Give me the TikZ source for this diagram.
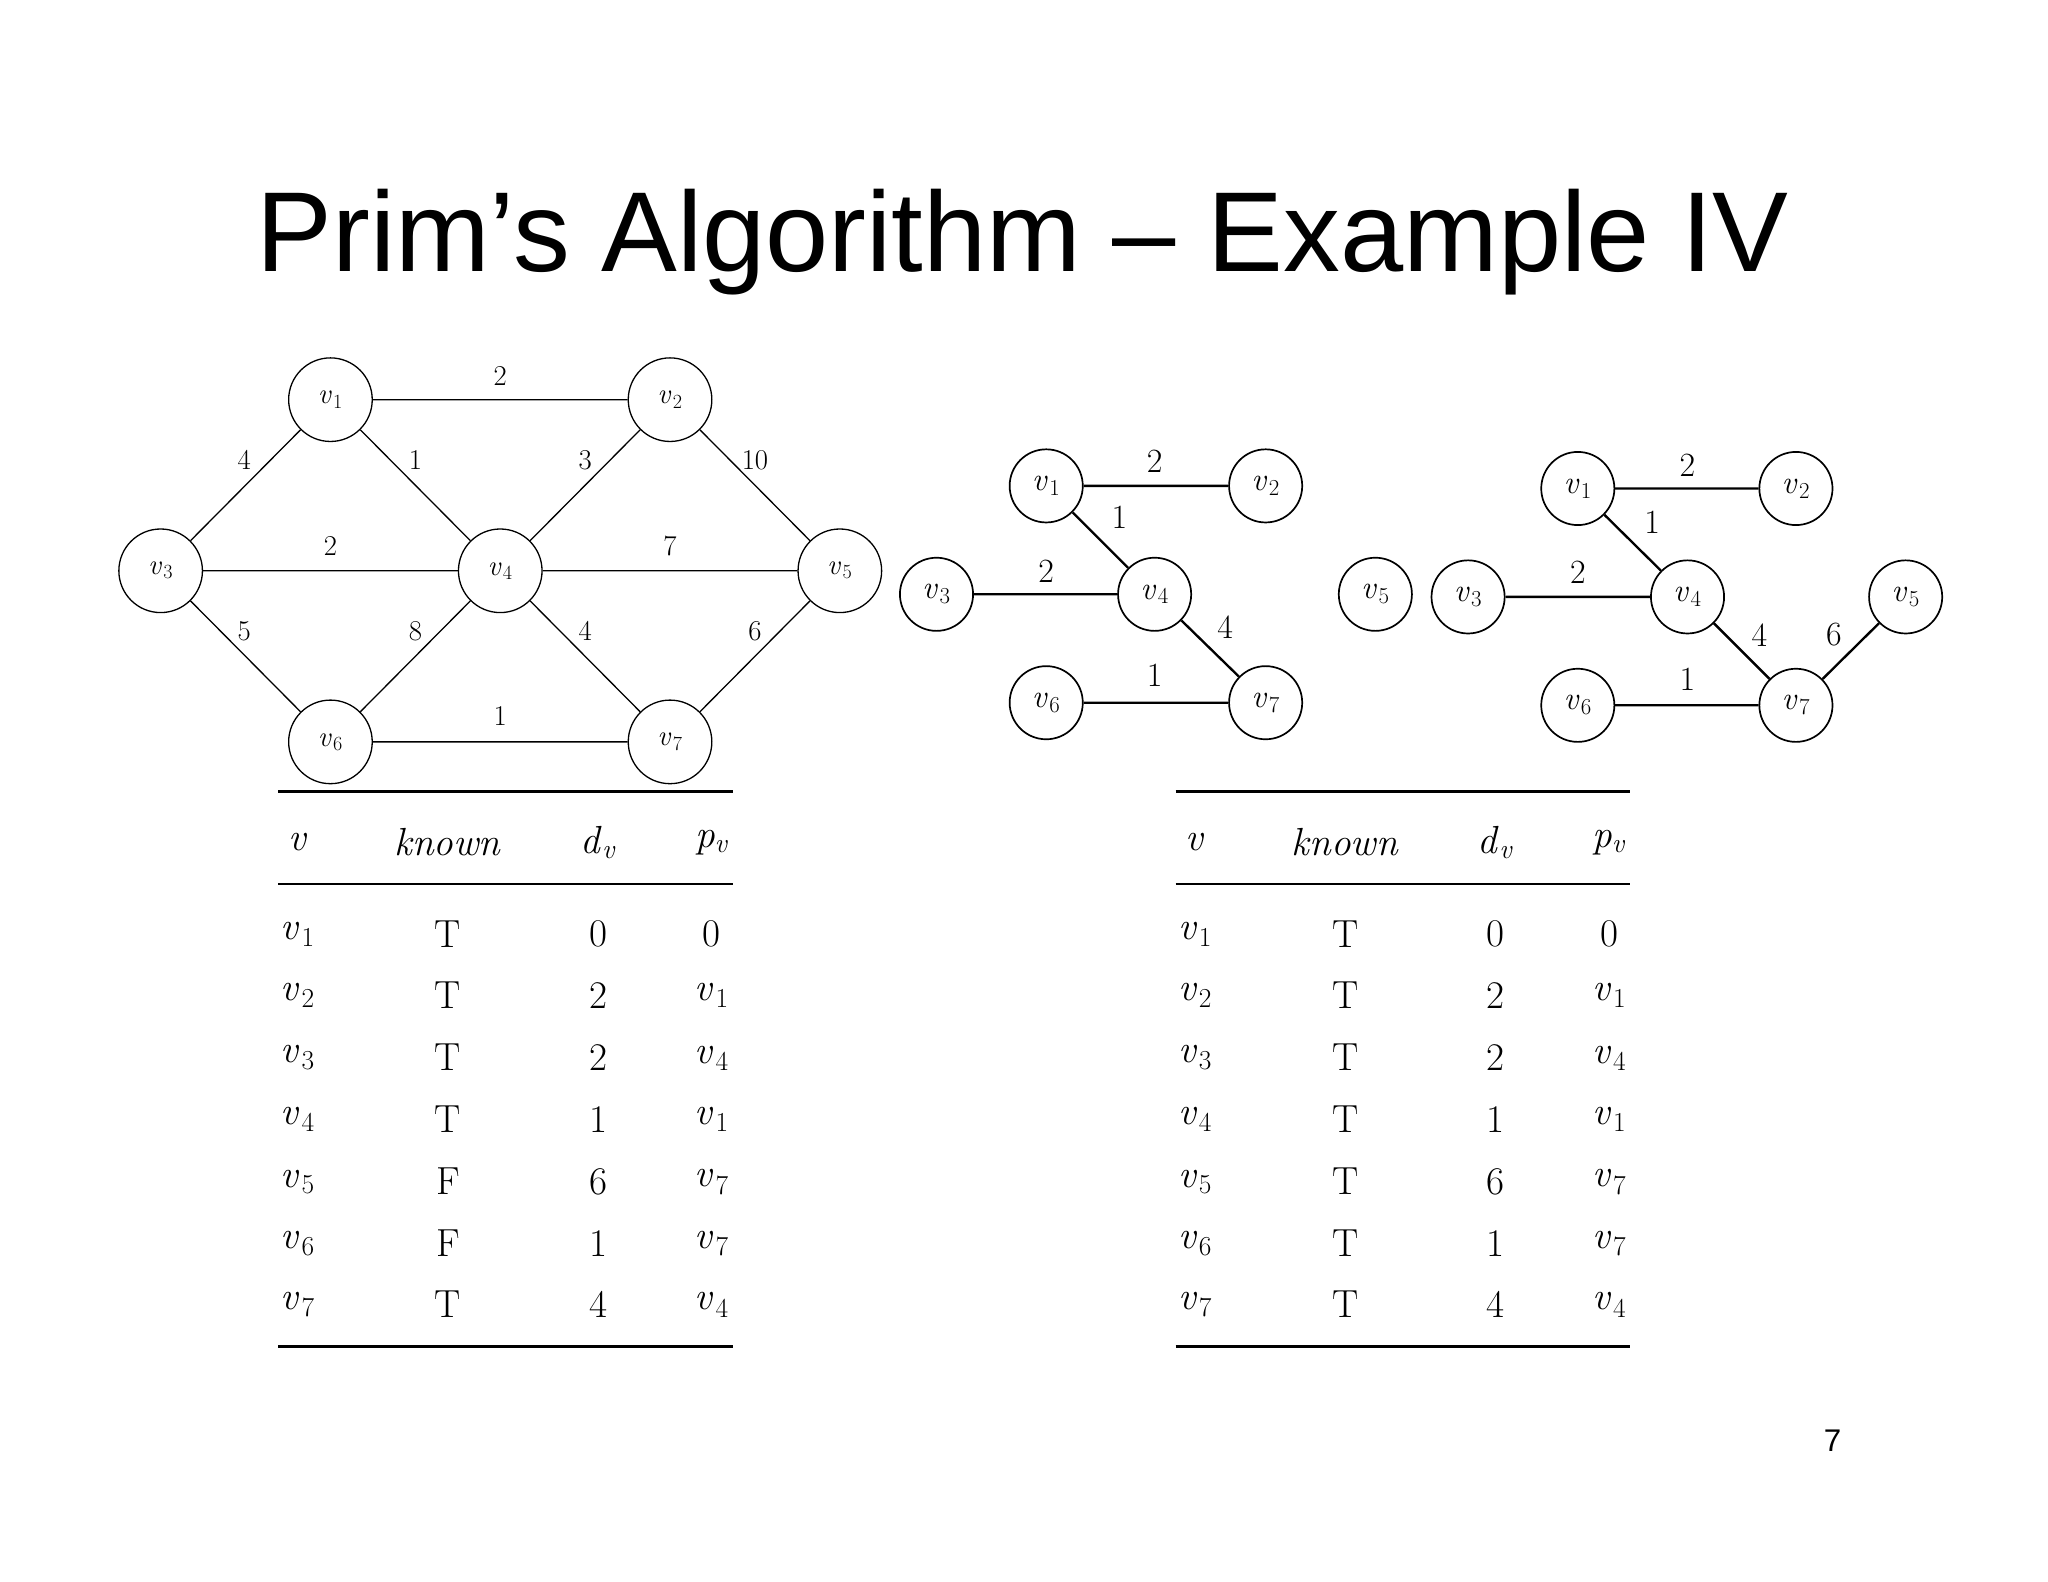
\documentclass[tikz,border=0pt]{standalone}
\usepackage{fontspec}
\newfontfamily\sansf{Liberation Sans}
\newcommand\vx[1]{\textit{v}\kern0.05em\textsubscript{#1}}
\begin{document}
\begin{tikzpicture}[x=1pt,y=-1pt,
 vn/.style={circle,draw,line width=1pt,minimum size=64pt,inner sep=0pt,font=\fontsize{22}{22}\selectfont},
 vs/.style={circle,draw,line width=1.3pt,minimum size=56pt,inner sep=0pt,font=\fontsize{25}{25}\selectfont},
 ed/.style={line width=1pt},
 es/.style={line width=1.8pt},
 el/.style={font=\fontsize{22}{22}\selectfont},
 es2/.style={font=\fontsize{26}{26}\selectfont},
 tt/.style={font=\fontsize{30}{30}\selectfont}]
\useasboundingbox (0,0) rectangle (1568,1211);
\node[font=\sansf\fontsize{87}{87}\selectfont] (title) at (783,185) {Prim’s Algorithm – Example IV};
\node[font=\sansf\fontsize{24}{24}\selectfont] (pg) at (1403,1103) {7};
% left graph
\node[vn] (a1) at (253,306) {\vx1};
\node[vn] (a2) at (513,306) {\vx2};
\node[vn] (a3) at (123,437) {\vx3};
\node[vn] (a4) at (383,437) {\vx4};
\node[vn] (a5) at (643,437) {\vx5};
\node[vn] (a6) at (253,568) {\vx6};
\node[vn] (a7) at (513,568) {\vx7};
\draw[ed] (a1)--(a2) (a1)--(a3) (a1)--(a4) (a2)--(a4) (a2)--(a5) (a3)--(a4) (a4)--(a5) (a3)--(a6) (a4)--(a6) (a4)--(a7) (a5)--(a7) (a6)--(a7);
\foreach \t/\x/\y in {2/383/288,4/187/352,1/318/352,3/448/352,10/578/352,2/253/418,7/513/418,5/187/483,8/318/483,4/448/483,6/578/483,1/383/548}
  \node[el] at (\x,\y) {\t};
% middle graph
\node[vs] (b1) at (801,372) {\vx1};
\node[vs] (b2) at (969,372) {\vx2};
\node[vs] (b3) at (717,455) {\vx3};
\node[vs] (b4) at (884,455) {\vx4};
\node[vs] (b5) at (1053,455) {\vx5};
\node[vs] (b6) at (801,538) {\vx6};
\node[vs] (b7) at (969,538) {\vx7};
\draw[es] (b1)--(b2) (b1)--(b4) (b3)--(b4) (b4)--(b7) (b6)--(b7);
\foreach \t/\x/\y in {2/884/353,1/857/396,2/801/437,4/938/480,1/884/517}
  \node[es2] at (\x,\y) {\t};
% right graph
\node[vs] (c1) at (1208,374) {\vx1};
\node[vs] (c2) at (1375,374) {\vx2};
\node[vs] (c3) at (1124,457) {\vx3};
\node[vs] (c4) at (1292,457) {\vx4};
\node[vs] (c5) at (1459,457) {\vx5};
\node[vs] (c6) at (1208,540) {\vx6};
\node[vs] (c7) at (1375,540) {\vx7};
\draw[es] (c1)--(c2) (c1)--(c4) (c3)--(c4) (c4)--(c7) (c6)--(c7) (c7)--(c5);
\foreach \t/\x/\y in {2/1292/356,1/1265/400,2/1208/438,4/1347/486,6/1404/486,1/1292/520}
  \node[es2] at (\x,\y) {\t};
% tables
\foreach \ox/\kk in {0/{T,T,T,T,F,F,T},687/{T,T,T,T,T,T,T}}{
  \begin{scope}[xshift=\ox]
  \draw[line width=1.8pt] (213,606)--(561,606);
  \draw[line width=1.2pt] (213,677)--(561,677);
  \draw[line width=1.8pt] (213,1031)--(561,1031);
  \node[tt] at (228,645) {\textit{v}};
  \node[tt] at (343,645) {\textit{known}};
  \node[tt] at (458,645) {\textit{d}\textsubscript{\textit{v}}};
  \node[tt] at (545,645) {\textit{p}\textsubscript{\textit{v}}};
  \foreach \i/\y/\d/\p in {1/715/0/0,2/762/2/\vx1,3/810/2/\vx4,4/857/1/\vx1,5/905/6/\vx7,6/952/1/\vx7,7/999/4/\vx4}{
    \node[tt] at (228,\y) {\vx\i};
    \node[tt] at (458,\y) {\d};
    \node[tt] at (545,\y) {\p};
  }
  \foreach \k [count=\n] in \kk {
    \pgfmathsetmacro\yy{715+(\n-1)*47.3}
    \node[tt] at (343,\yy) {\k};
  }
  \end{scope}
}
\end{tikzpicture}
\end{document}
